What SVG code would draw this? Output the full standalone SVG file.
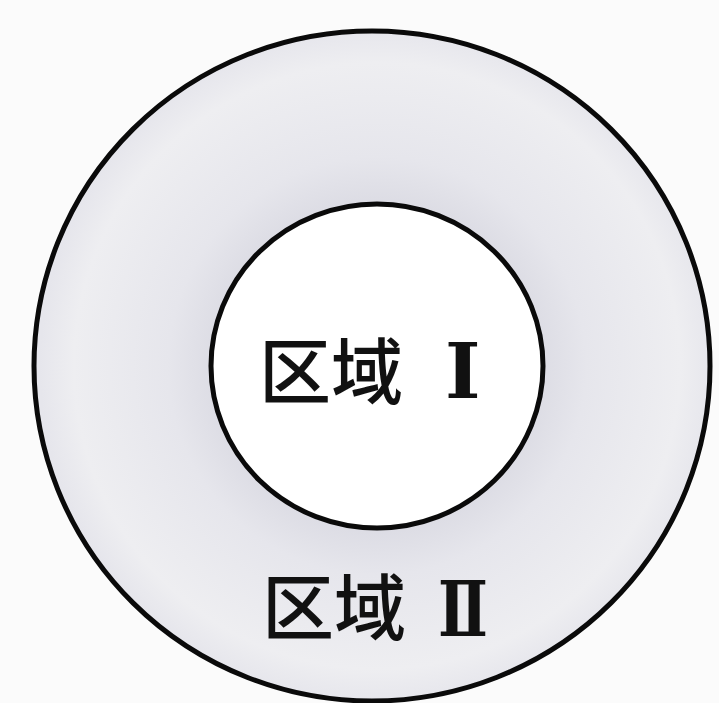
<svg xmlns="http://www.w3.org/2000/svg" width="719" height="703" viewBox="0 0 719 703">
<style>
.ring{stroke:#0a0a0a;stroke-width:5}
.lbl{font-family:"Noto Sans CJK SC","Noto Sans CJK JP",sans-serif;font-size:72px;fill:#111;font-weight:500}
.num{font-family:"DejaVu Serif","Liberation Serif","Noto Sans CJK SC",serif;font-size:76px;fill:#111;font-weight:600}
</style>
<defs>
<radialGradient id="g" cx="377" cy="366" r="337" gradientUnits="userSpaceOnUse">
<stop offset="0.48" stop-color="#dcdce4"/>
<stop offset="0.62" stop-color="#e6e6ec"/>
<stop offset="0.9" stop-color="#eeeef1"/>
<stop offset="1" stop-color="#e6e6ec"/>
</radialGradient>
</defs>
<rect width="719" height="703" fill="#fbfbfb"/>
<g id="region2">
<ellipse class="ring" cx="372" cy="366" rx="338" ry="335" fill="url(#g)"/>
<text class="lbl" x="262" y="634">区域</text>
<text class="num" x="438" y="636" textLength="50" lengthAdjust="spacingAndGlyphs">Ⅱ</text>
</g>
<g id="region1">
<ellipse class="ring" cx="377" cy="366" rx="166" ry="162" fill="#ffffff"/>
<text class="lbl" x="259" y="398">区域</text>
<text class="num" x="445" y="398">Ⅰ</text>
</g>
</svg>
